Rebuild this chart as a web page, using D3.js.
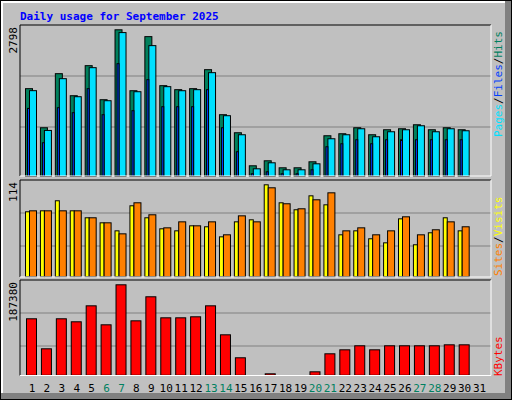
<!DOCTYPE html><html><head><meta charset="utf-8">
<script src="https://cdn.jsdelivr.net/npm/d3@7"></script>
<style>body{margin:0;background:#fff}</style></head><body><svg id="c" width="512" height="400"></svg>
<script>
const days=d3.range(1,32);
const weekend=[6,7,13,14,20,21,27,28];
const hits=[1679,936,1964,1545,2116,1469,2798,1640,2668,1736,1660,1679,2040,1184,841,213,308,175,175,289,784,822,936,803,898,917,993,898,936,898,0];
const files=[1641,885,1869,1526,2078,1450,2745,1621,2497,1717,1640,1660,1983,1165,803,156,270,137,137,251,727,803,917,765,860,898,974,860,917,879,0];
const pages=[1304,651,1317,1222,1679,1184,2154,1260,1850,1336,1336,1336,1660,936,480,61,99,61,61,137,575,632,708,632,708,708,708,708,708,708,0];
const visits=[80.7,81.9,94.3,81.9,73.3,67.1,57.2,88.1,73.3,59.7,57.2,63.4,62.2,49.8,68.3,70.8,114,91.8,83.2,100.4,89.3,52.3,57.2,47.4,42.4,72.0,40.0,54.8,73.3,57.2,0];
const sites=[81.9,81.9,81.9,81.9,73.3,67.1,53.5,91.8,77.0,60.9,68.3,63.4,68.3,52.3,75.7,68.3,110.3,90.6,84.4,95.5,104.1,57.2,60.9,52.3,57.2,74.5,52.3,58.5,68.3,62.2,0];
const kbytes=[117400,55600,117400,111200,144100,105000,187380,113200,162700,119400,119400,121500,144100,84400,37100,1000,4100,1000,1000,8200,45300,53500,61800,53500,61800,61800,61800,61800,63800,63800,0];
const maxLabels=["2798","114","187380"];

const svg=d3.select("#c");
const F="DejaVu Sans Mono, monospace";
// frame
svg.append("rect").attr("x",0).attr("y",0).attr("width",512).attr("height",400).attr("fill","#c0c0c0");
svg.append("rect").attr("x",0.5).attr("y",0.5).attr("width",511).attr("height",399).attr("fill","none").attr("stroke","#000");
svg.append("rect").attr("x",505).attr("y",1).attr("width",6).attr("height",398).attr("fill","#808080");
svg.append("rect").attr("x",1).attr("y",393).attr("width",510).attr("height",6).attr("fill","#808080");
svg.append("path").attr("d","M2,393V2H505").attr("stroke","#fff").attr("fill","none").attr("stroke-width",2);
svg.append("text").attr("x",20).attr("y",20).attr("font-family",F).attr("font-weight","bold").attr("font-size",11).attr("fill","#0000ff").text("Daily usage for September 2025");

const x=d3.scaleBand().domain(days).range([25,25+31*14.92]).padding(0);
const X0=20,X1=491;
const panels=[{t:25,b:176,max:2798,grid:[76,127]},{t:180,b:277,max:114,grid:[213,246]},{t:280,b:375.5,max:187380,grid:[313,346]}];
panels.forEach((p,i)=>{
  svg.append("rect").attr("x",X0).attr("y",p.t).attr("width",X1-X0).attr("height",p.b-p.t).attr("fill","#c0c0c0");
  p.grid.forEach(g=>svg.append("line").attr("x1",X0).attr("x2",X1).attr("y1",g).attr("y2",g).attr("stroke","#808080"));
  svg.append("text").attr("transform",`translate(17,${p.t+2}) rotate(-90)`).attr("text-anchor","end").attr("font-family",F).attr("font-size",11).attr("fill","#000").text(maxLabels[i]);
});
function bars(data,p,off,w,col){
  const y=d3.scaleLinear().domain([0,p.max]).range([p.b,p.b-147*(p.max===2798?1:0)]);
  const ys=p.max===2798?d3.scaleLinear().domain([0,p.max]).range([176.5,29.3]):
           p.max===114?d3.scaleLinear().domain([0,114]).range([276.7,184.3]):
           d3.scaleLinear().domain([0,187380]).range([375.3,284.3]);
  svg.append("g").selectAll("rect").data(data).join("rect").filter(d=>d>0)
   .attr("x",(d,i)=>x(days[i])+off+0.5).attr("width",w)
   .attr("y",d=>ys(d)+0.5).attr("height",d=>Math.max(0,ys(0)-ys(d)-0.5))
   .attr("fill",col).attr("stroke","#000");
}
bars(hits,panels[0],0,7,"#00805c");
bars(files,panels[0],4,7,"#00e0ff");
bars(pages,panels[0],2,2,"#0040ff");
bars(visits,panels[1],0,4,"#ffff00");
bars(sites,panels[1],4,7,"#ff8000");
bars(kbytes,panels[2],1,10,"#ff0000");
// panel borders
panels.forEach(p=>{
  svg.append("path").attr("d",`M${X0},${p.b}V${p.t}H${X1}`).attr("stroke","#000").attr("fill","none");
  svg.append("path").attr("d",`M${X0},${p.b}H${X1}V${p.t}`).attr("stroke","#fff").attr("fill","none");
});
// x labels
svg.append("g").selectAll("text").data(days).join("text")
 .attr("x",d=>x(d)+x.bandwidth()/2-0.5).attr("y",392).attr("text-anchor","middle").attr("font-family",F).attr("font-size",11)
 .attr("fill",d=>weekend.includes(d)?"#008060":"#000").text(d=>d);
// right labels
function rlab(parts,yEnd){
  const t=svg.append("text").attr("transform",`translate(502,${yEnd}) rotate(-90)`).attr("font-family",F).attr("font-size",11);
  parts.forEach(([s,c])=>t.append("tspan").attr("fill",c).text(s));
}
rlab([["Pages","#00e0ff"],["/","#000"],["Files","#0040ff"],["/","#000"],["Hits","#008060"]],137);
rlab([["Sites","#ff8000"],["/","#000"],["Visits","#ffff00"]],276);
rlab([["KBytes","#ff0000"]],376);
</script></body></html>
